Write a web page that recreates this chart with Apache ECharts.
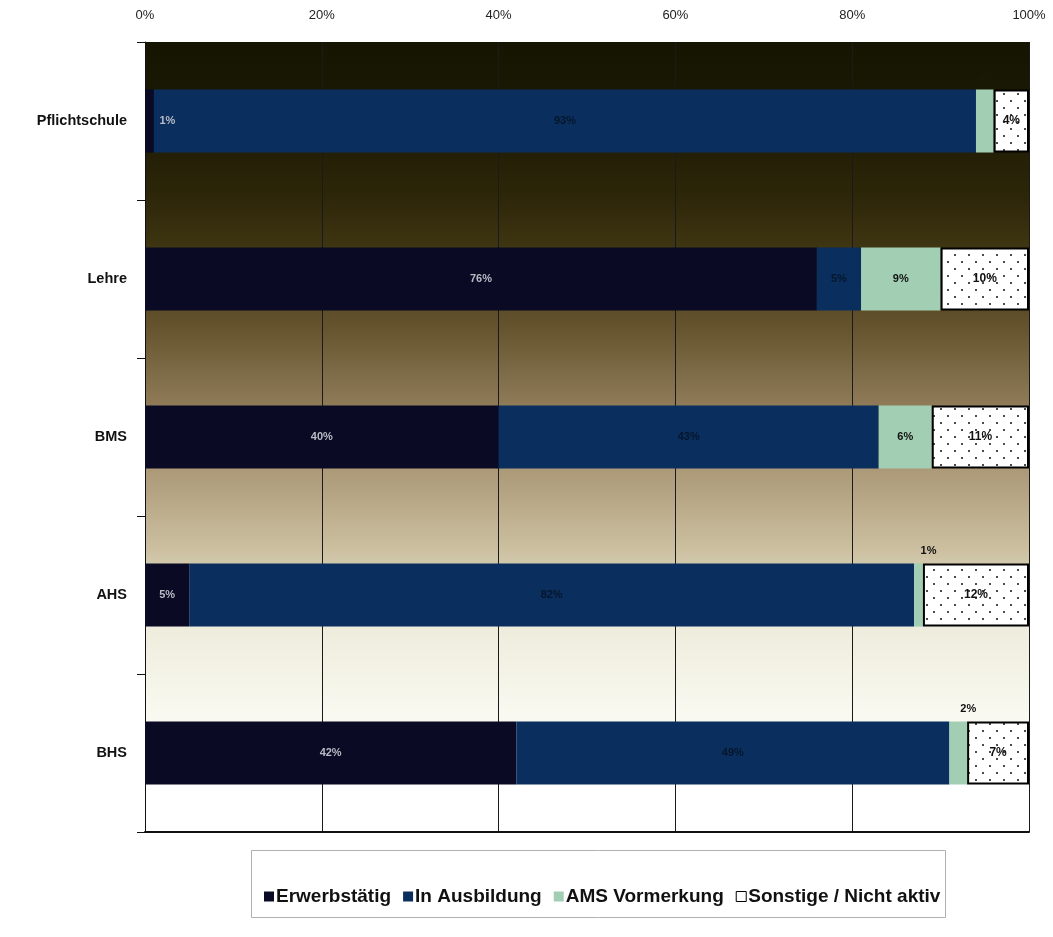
<!DOCTYPE html>
<html>
<head>
<meta charset="utf-8">
<script src="https://cdn.jsdelivr.net/npm/echarts@6/dist/echarts.min.js"></script>
<style>html,body{margin:0;padding:0;background:#fff}#c{width:1053px;height:937px}</style>
</head>
<body>
<div id="c"></div>
<script>
const categories = ['Pflichtschule', 'Lehre', 'BMS', 'AHS', 'BHS'];
const seriesNames = ['Erwerbstätig', 'In Ausbildung', 'AMS Vormerkung', 'Sonstige / Nicht aktiv'];
const erwerbstaetig = [1, 76, 40, 5, 42];
const inAusbildung = [93, 5, 43, 82, 49];
const amsVormerkung = [2, 9, 6, 1, 2];
const sonstige = [4, 10, 11, 12, 7];
const xTicks = [0, 20, 40, 60, 80, 100];

// dotted pattern
const pc = document.createElement('canvas');
pc.width = 14; pc.height = 14;
const pctx = pc.getContext('2d');
pctx.fillStyle = '#ffffff'; pctx.fillRect(0, 0, 14, 14);
pctx.fillStyle = '#111';
[[3, 3], [10, 10]].forEach(p => { pctx.beginPath(); pctx.arc(p[0], p[1], 1, 0, Math.PI * 2); pctx.fill(); });

const chart = echarts.init(document.getElementById('c'), null, { renderer: 'canvas' });
const font = 'Arial, "Liberation Sans", sans-serif';
const baseLabel = { show: true, fontFamily: font, fontWeight: 'bold', fontSize: 11, formatter: '{c}%' };

const labelOverrides = {
  0: { 0: { offset: [18, 0] } },
  2: {
    0: { position: 'top', offset: [2, -2], color: '#1a1a08' },
    3: { position: 'top', offset: [10, -2], color: '#111' },
    4: { position: 'top', offset: [10, -2], color: '#111' }
  }
};
function mk(vals, si) {
  return vals.map((v, i) => {
    const o = { value: v };
    if (labelOverrides[si] && labelOverrides[si][i]) o.label = labelOverrides[si][i];
    return o;
  });
}

const bg = new echarts.graphic.LinearGradient(0, 0, 0, 1, [
  { offset: 0, color: '#151502' },
  { offset: 0.1, color: '#1c1a04' },
  { offset: 0.2, color: '#2e2709' },
  { offset: 0.28, color: '#443a15' },
  { offset: 0.36, color: '#65532e' },
  { offset: 0.46, color: '#8f7b58' },
  { offset: 0.55, color: '#ae9c7b' },
  { offset: 0.64, color: '#cbbf9f' },
  { offset: 0.74, color: '#eeecdc' },
  { offset: 0.85, color: '#f9f9f0' },
  { offset: 0.93, color: '#ffffff' },
  { offset: 1, color: '#ffffff' }
]);

chart.setOption({
  animation: false,
  backgroundColor: '#ffffff',
  grid: { left: 145, right: 24, top: 42, bottom: 105, show: true, backgroundColor: bg, borderWidth: 0 },
  graphic: [{
    type: 'rect', left: 251, top: 850, shape: { width: 694, height: 67 },
    style: { fill: '#ffffff', stroke: '#b0b0b0', lineWidth: 1 }, z: 0
  }],
  legend: {
    left: 259, top: 882, itemWidth: 10, itemHeight: 10, itemGap: 12,
    icon: 'rect',
    textStyle: { fontFamily: font, fontWeight: 'bold', fontSize: 19, color: '#111', padding: [0, 0, 0, -3] },
    data: [
      { name: seriesNames[0] },
      { name: seriesNames[1] },
      { name: seriesNames[2] },
      { name: seriesNames[3], itemStyle: { color: '#ffffff', borderColor: '#000', borderWidth: 1 } }
    ]
  },
  xAxis: [{
    type: 'value', position: 'top', min: 0, max: 100, interval: 20,
    axisLabel: { fontFamily: font, fontSize: 13, color: '#222', margin: 20, formatter: v => xTicks.includes(v) ? v + '%' : '' },
    axisLine: { show: false }, axisTick: { show: false },
    splitLine: { show: true, lineStyle: { color: '#1a1a1a', width: 1 } }
  }, {
    type: 'value', position: 'bottom', min: 0, max: 100, interval: 20,
    axisLabel: { show: false }, axisTick: { show: false }, splitLine: { show: false },
    axisLine: { show: true, lineStyle: { color: '#111', width: 2 } }
  }],
  yAxis: {
    type: 'category', data: categories, inverse: true,
    axisLine: { show: true, lineStyle: { color: '#111', width: 1 } },
    axisTick: { show: true, length: 8, inside: false, lineStyle: { color: '#111' } },
    axisLabel: { fontFamily: font, fontWeight: 'bold', fontSize: 14.5, color: '#111', margin: 18 }
  },
  series: [
    { name: seriesNames[0], type: 'bar', stack: 's', barWidth: '40%', data: mk(erwerbstaetig, 0),
      itemStyle: { color: '#0a0a24' }, label: Object.assign({}, baseLabel, { color: '#b8bcc4' }) },
    { name: seriesNames[1], type: 'bar', stack: 's', data: mk(inAusbildung, 1),
      itemStyle: { color: '#0a2f5e' }, label: Object.assign({}, baseLabel, { color: '#06162c' }) },
    { name: seriesNames[2], type: 'bar', stack: 's', data: mk(amsVormerkung, 2),
      itemStyle: { color: '#a2cfb3' }, label: Object.assign({}, baseLabel, { color: '#111' }) },
    { name: seriesNames[3], type: 'bar', stack: 's', data: mk(sonstige, 3),
      itemStyle: { color: { image: pc, repeat: 'repeat' }, borderColor: '#000', borderWidth: 2 },
      label: Object.assign({}, baseLabel, { color: '#111', fontSize: 12 }) }
  ]
});
</script>
</body>
</html>
